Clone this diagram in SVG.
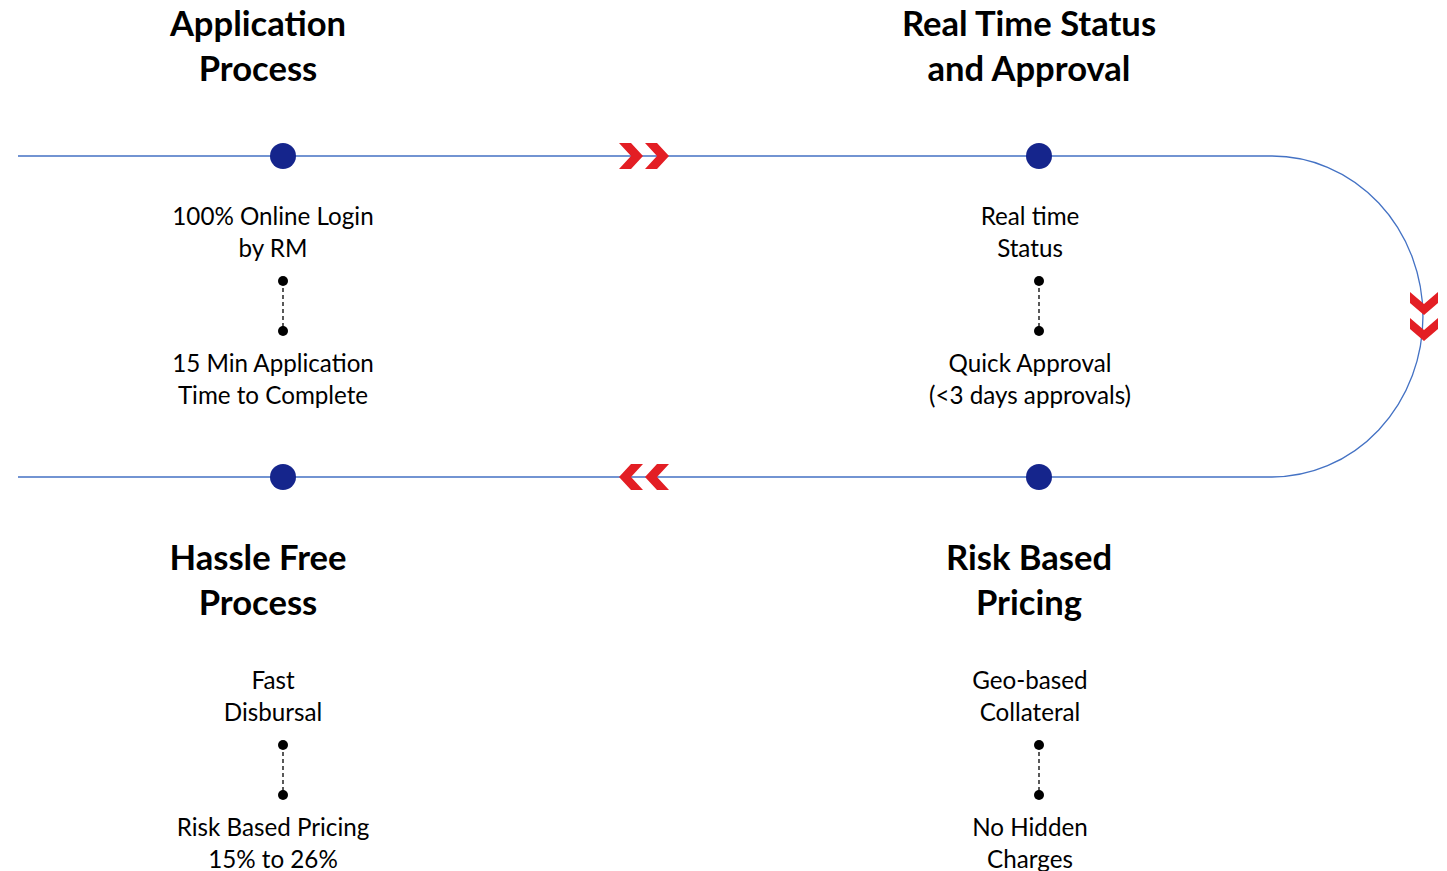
<svg xmlns="http://www.w3.org/2000/svg" width="1447" height="871" viewBox="0 0 1447 871">
<style>
.ln{stroke:#4472C4;stroke-width:1.3;fill:none}
.dot{fill:#15258C}
.sd{fill:#000}
.dash{stroke:#000;stroke-width:1.3;stroke-dasharray:4 3}
.chev{fill:#E31E24}
.t{font-family:Lato,"Open Sans",sans-serif;font-weight:bold;font-size:34.6px;fill:#000;text-anchor:middle}
.b{font-family:Lato,"Open Sans",sans-serif;font-size:24.2px;fill:#000;text-anchor:middle}
</style>
<rect width="1447" height="871" fill="#fff"/>
<g id="connectors">
<path class="ln" d="M18 156 H1272 A151 160.5 0 0 1 1272 477 H18"/>
<polygon class="chev" points="619,143 631,143 643,156 631,169 619,169 631,156"/>
<polygon class="chev" points="645,143 657,143 669,156 657,169 645,169 657,156"/>
<polygon class="chev" points="643,464 631,464 619,477 631,490 643,490 631,477"/>
<polygon class="chev" points="669,464 657,464 645,477 657,490 669,490 657,477"/>
<polygon class="chev" points="1410,292 1424,304 1438,292 1438,303 1424,315 1410,303"/>
<polygon class="chev" points="1410,318 1424,330 1438,318 1438,329 1424,341 1410,329"/>
</g>
<g id="node-application">
<text class="t" x="258" y="36">Application</text>
<text class="t" x="258" y="81">Process</text>
<circle class="dot" cx="283" cy="156" r="13"/>
<text class="b" x="273" y="225">100% Online Login</text>
<text class="b" x="273" y="257">by RM</text>
<line class="dash" x1="283" y1="281" x2="283" y2="331"/>
<circle class="sd" cx="283" cy="281" r="5"/>
<circle class="sd" cx="283" cy="331" r="5"/>
<text class="b" x="273" y="372">15 Min Application</text>
<text class="b" x="273" y="404">Time to Complete</text>
</g>
<g id="node-realtime">
<text class="t" x="1029" y="36">Real Time Status</text>
<text class="t" x="1029" y="81">and Approval</text>
<circle class="dot" cx="1039" cy="156" r="13"/>
<text class="b" x="1030" y="225">Real time</text>
<text class="b" x="1030" y="257">Status</text>
<line class="dash" x1="1039" y1="281" x2="1039" y2="331"/>
<circle class="sd" cx="1039" cy="281" r="5"/>
<circle class="sd" cx="1039" cy="331" r="5"/>
<text class="b" x="1030" y="372">Quick Approval</text>
<text class="b" x="1030" y="404">(&lt;3 days approvals)</text>
</g>
<g id="node-hassle">
<circle class="dot" cx="283" cy="477" r="13"/>
<text class="t" x="258" y="570">Hassle Free</text>
<text class="t" x="258" y="615">Process</text>
<text class="b" x="273" y="689">Fast</text>
<text class="b" x="273" y="721">Disbursal</text>
<line class="dash" x1="283" y1="745" x2="283" y2="795"/>
<circle class="sd" cx="283" cy="745" r="5"/>
<circle class="sd" cx="283" cy="795" r="5"/>
<text class="b" x="273" y="836">Risk Based Pricing</text>
<text class="b" x="273" y="868">15% to 26%</text>
</g>
<g id="node-risk">
<circle class="dot" cx="1039" cy="477" r="13"/>
<text class="t" x="1029" y="570">Risk Based</text>
<text class="t" x="1029" y="615">Pricing</text>
<text class="b" x="1030" y="689">Geo-based</text>
<text class="b" x="1030" y="721">Collateral</text>
<line class="dash" x1="1039" y1="745" x2="1039" y2="795"/>
<circle class="sd" cx="1039" cy="745" r="5"/>
<circle class="sd" cx="1039" cy="795" r="5"/>
<text class="b" x="1030" y="836">No Hidden</text>
<text class="b" x="1030" y="868">Charges</text>
</g>
</svg>
